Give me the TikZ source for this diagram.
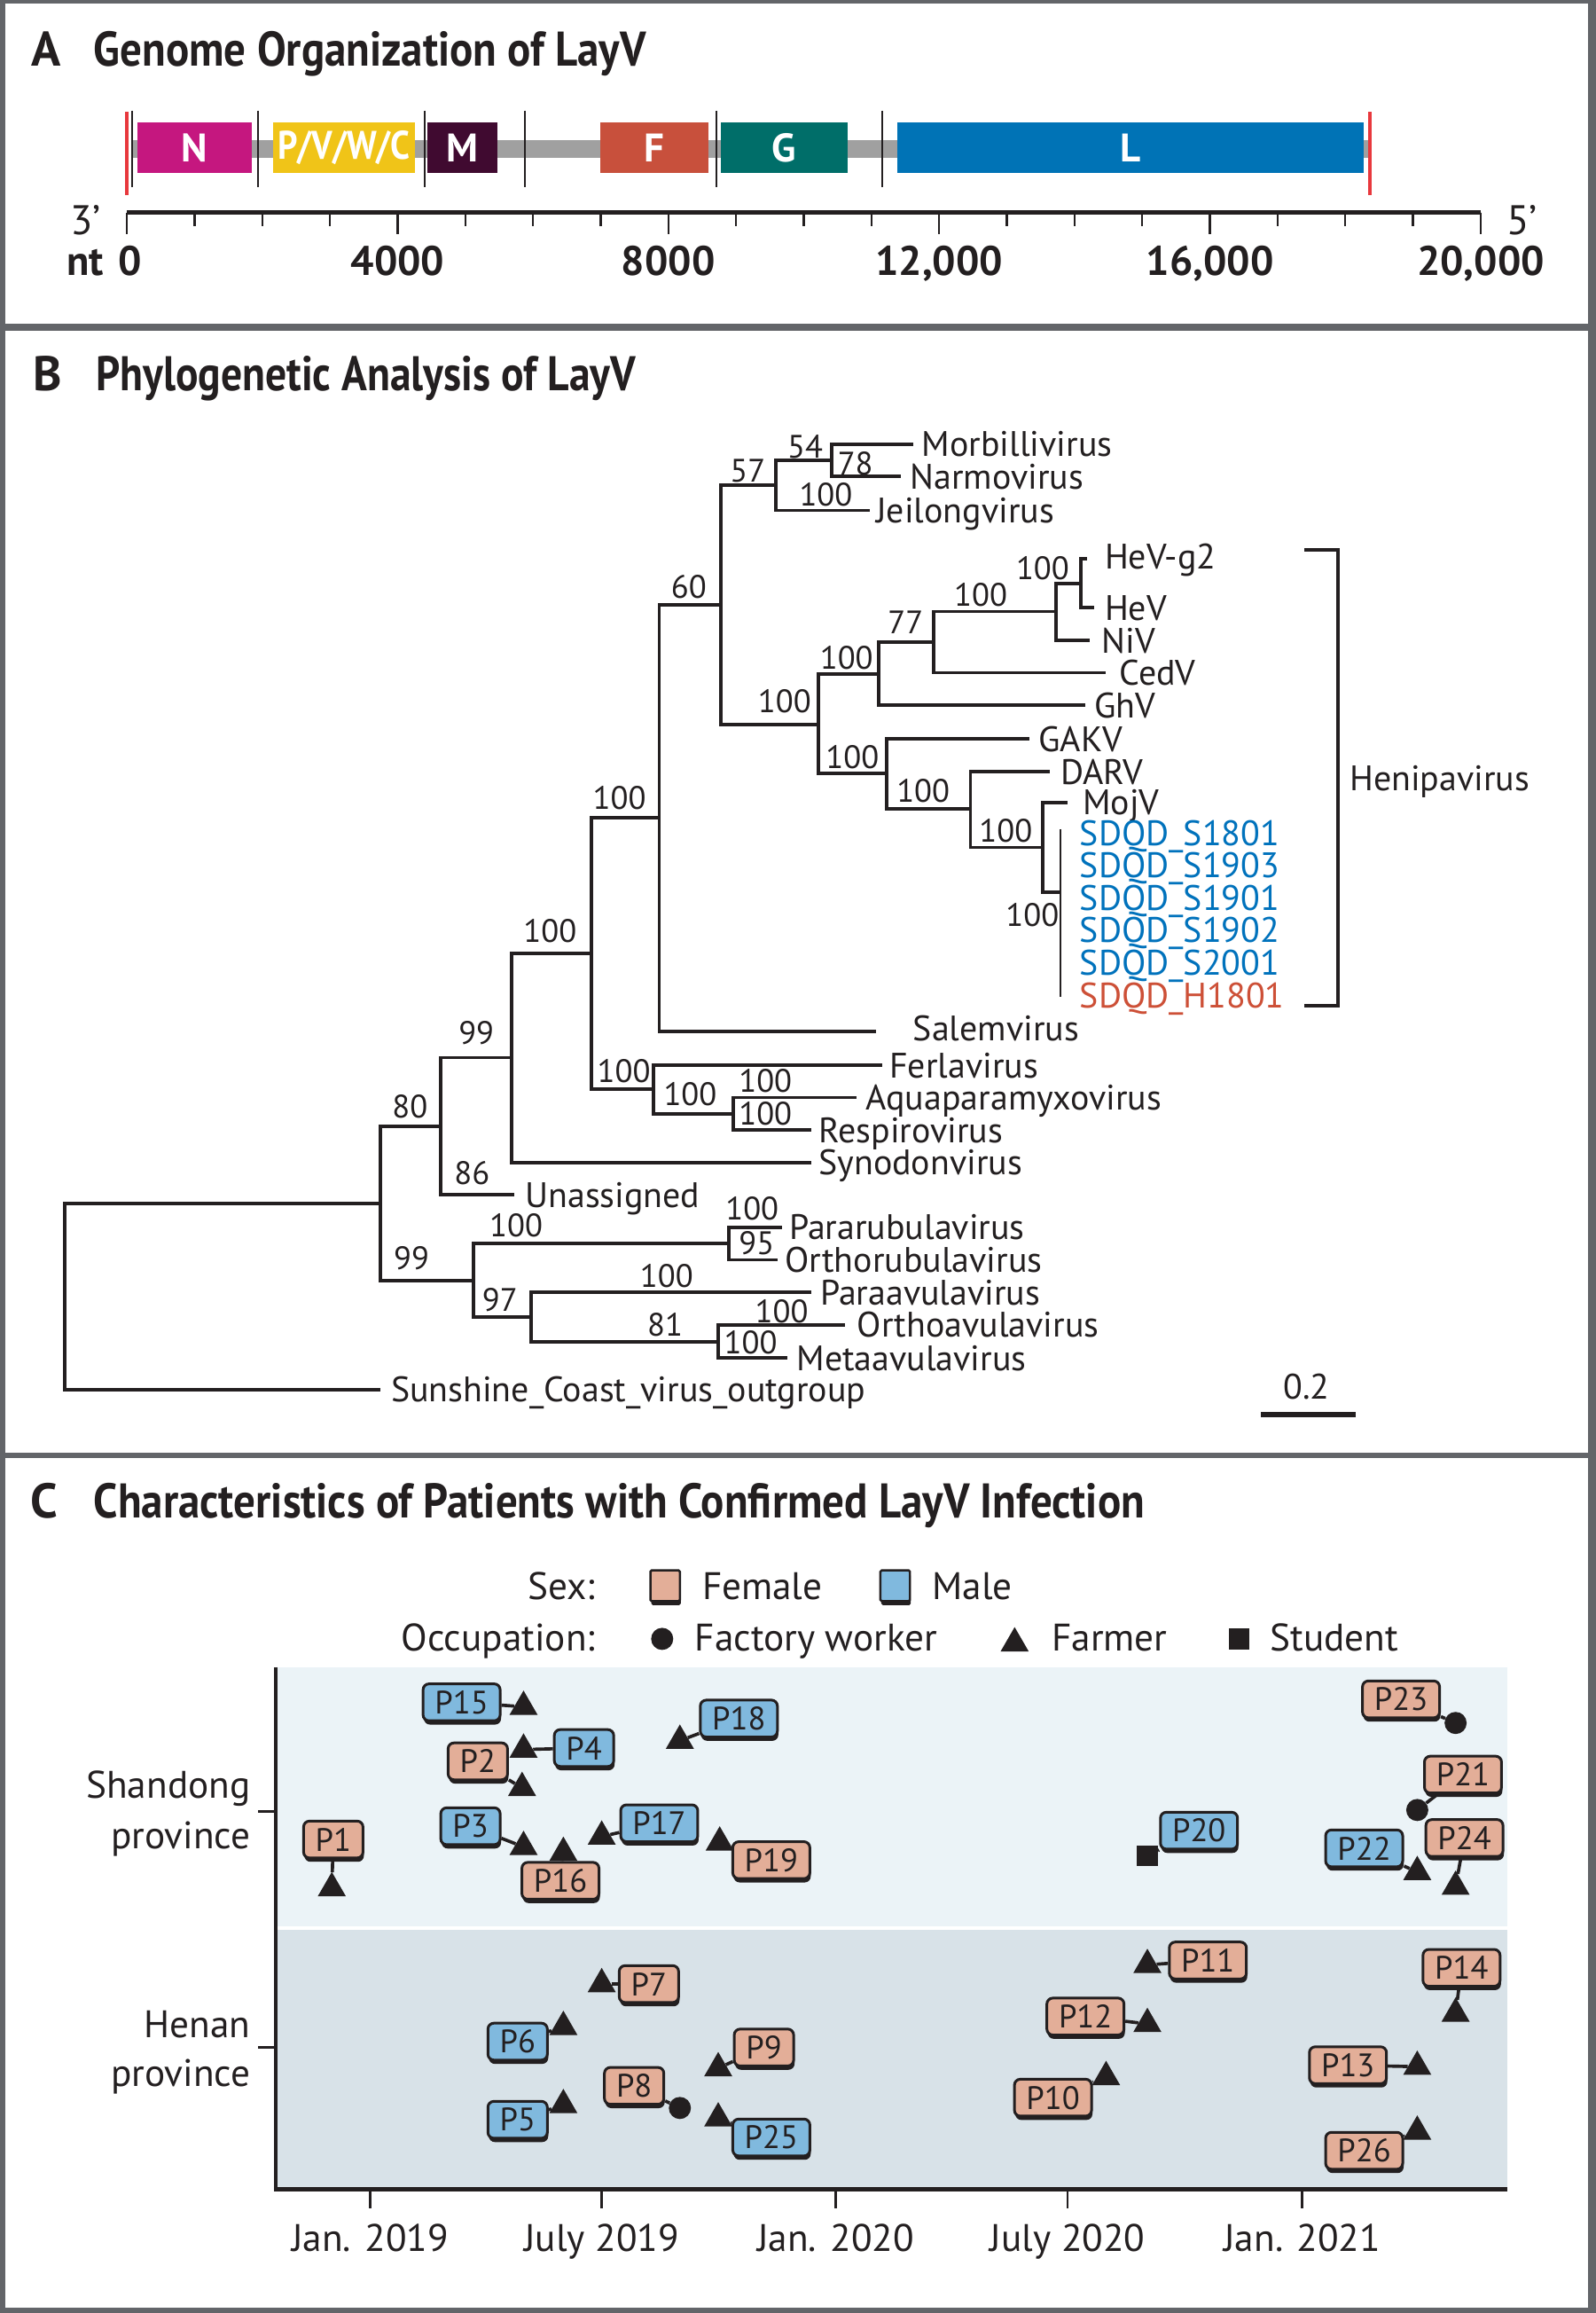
\documentclass[tikz,border=0pt]{standalone}
\usepackage{fontspec}
\setmainfont{PT Sans}
\usepackage{graphicx}
\usetikzlibrary{shapes.geometric,shadows}
\newcommand\myfs[1]{\fontsize{#1pt}{#1pt}\selectfont}
\newlength\mytmpw
\newcommand\fitw[2]{\settowidth\mytmpw{#2}\pgfmathsetmacro\myfac{#1/\mytmpw}\scalebox{\myfac}[1]{#2}}
\definecolor{frame}{HTML}{636569}
\definecolor{cN}{HTML}{C5177F}
\definecolor{cP}{HTML}{F0C418}
\definecolor{cM}{HTML}{400A30}
\definecolor{cF}{HTML}{C8503C}
\definecolor{cG}{HTML}{006E69}
\definecolor{cL}{HTML}{0073B6}
\definecolor{cbar}{HTML}{A0A0A0}
\definecolor{cred}{HTML}{E8383D}
\definecolor{sdqd}{HTML}{0072BC}
\definecolor{hsdqd}{HTML}{CD5037}
\definecolor{fem}{HTML}{E3AE98}
\definecolor{mal}{HTML}{80B9DE}
\definecolor{shd}{HTML}{EBF3F7}
\definecolor{hen}{HTML}{D8E2E8}
\definecolor{ink}{HTML}{231F20}
\tikzset{
  ttl/.style={font=\bfseries\myfs{33}, inner sep=0, anchor=base west, text=ink},
  axl/.style={font=\bfseries\myfs{28}, inner sep=0, anchor=base, text=ink},
  gene/.style={minimum height=34pt, inner sep=0, font=\bfseries\myfs{27}, text=white},
  tree/.style={line width=2.3pt, draw=ink},
  leaf/.style={font=\myfs{24}, inner sep=0, anchor=base west, yshift=-8.5pt, text=ink},
  bs/.style={font=\myfs{22}, inner sep=0, text=ink},
  tx/.style={font=\myfs{26}, inner sep=0, yshift=-9pt, text=ink},
  pbox/.style={draw=ink, line width=1.8pt, rounded corners=4pt, minimum height=25pt,
    inner xsep=8pt, inner ysep=0pt, font=\myfs{22}, text=ink,
    drop shadow={shadow xshift=0.6pt, shadow yshift=-2.6pt, fill=ink, opacity=1}},
  fbox/.style={pbox, fill=fem},
  mbox/.style={pbox, fill=mal},
  tri/.style={regular polygon, regular polygon sides=3, fill=ink, inner sep=0pt, minimum size=22pt},
  dot/.style={circle, fill=ink, inner sep=0pt, minimum size=15pt},
  sqm/.style={rectangle, fill=ink, inner sep=0pt, minimum size=14pt},
  conn/.style={line width=2.2pt, draw=ink},
}
\begin{document}
\begin{tikzpicture}[x=1pt,y=-1pt]
\useasboundingbox (0,0) rectangle (1082,1568);
\fill[frame] (0,0) rectangle (1082,1568);
\fill[white] (3.5,2.5) rectangle (1077,219.5);
\fill[white] (3.5,224) rectangle (1077,984.5);
\fill[white] (3.5,988.5) rectangle (1077,1564.5);

% ---------------- Panel A ----------------
\node[ttl] (tA) at (21,45) {A};
\node[ttl] (tAt) at (63.5,45) {\fitw{374.5pt}{Genome Organization of LayV}};
\fill[cbar] (89.7,95) rectangle (928,107);
\node[gene, fill=cN, minimum width=77.3pt] (gN) at (131.85,100) {N};
\node[gene, fill=cP, minimum width=96.6pt] (gP) at (233.3,100) {\fitw{90pt}{P/V/W/C}};
\node[gene, fill=cM, minimum width=47.7pt] (gM) at (313.65,100) {M};
\node[gene, fill=cF, minimum width=73.3pt] (gF) at (443.65,100) {F};
\node[gene, fill=cG, minimum width=86.4pt] (gG) at (531.8,100) {G};
\node[gene, fill=cL, minimum width=316.1pt] (gL) at (766.75,100) {L};
\foreach \x in {89.6,175,288,356,486,598} \draw[ink, line width=1.2pt] (\x,75) -- (\x,127);
\draw[cred, line width=2.5pt] (86,76) -- (86,132);
\draw[cred, line width=2.5pt] (929,76) -- (929,132);
% scale
\draw[ink, line width=3pt] (86,144) -- (1004,144);
\foreach \i in {0,...,20} {
  \pgfmathsetmacro\xx{86+\i*45.9}
  \draw[ink, line width=1.4pt] (\xx,144) -- (\xx,153.5);
}
\foreach \i in {0,4,8,12,16,20} {
  \pgfmathsetmacro\xx{86+\i*45.9}
  \draw[ink, line width=1.4pt] (\xx,144) -- (\xx,158.5);
}
\node[font=\myfs{28}, inner sep=0, anchor=base, text=ink] (t3) at (58,159.3) {3’};
\node[font=\myfs{28}, inner sep=0, anchor=base, text=ink] (t5) at (1032,159.3) {5’};
\node[axl, anchor=base west] (lnt) at (45,186.4) {nt};
\node[axl] (l0) at (88,186.4) {0};
\node[axl] (l4) at (269.6,186.4) {4000};
\node[axl] (l8) at (453.2,186.4) {8000};
\node[axl] (l12) at (636.8,186.4) {12,000};
\node[axl] (l16) at (820.4,186.4) {16,000};
\node[axl] (l20) at (1004,186.4) {20,000};

% ---------------- Panel B ----------------
\node[ttl] (tB) at (22.4,265) {B};
\node[ttl] (tBt) at (65,265) {\fitw{366pt}{Phylogenetic Analysis of LayV}};

% internal nodes
\coordinate (R) at (44,879.5);
\coordinate (n80) at (258,816);
\coordinate (n99a) at (299,763.5);
\coordinate (n99b) at (321,868);
\coordinate (n100a) at (347,717);
\coordinate (n100b) at (401,646.5);
\coordinate (n100c) at (447,554.5);
\coordinate (n100d) at (443,738.5);
\coordinate (n100e) at (497,755);
\coordinate (n60) at (489,410);
\coordinate (n57) at (526,329);
\coordinate (n54) at (564,312);
\coordinate (nH) at (555,491);
\coordinate (nA) at (596,457);
\coordinate (n77) at (633,435.5);
\coordinate (nB) at (716,414.5);
\coordinate (nC) at (733,395.5);
\coordinate (nD) at (601,524.5);
\coordinate (nE) at (658,548.5);
\coordinate (nF) at (707,574.5);
\coordinate (nG) at (719,605);
\coordinate (nGt) at (719,562);
\coordinate (nGb) at (719,676);
\coordinate (n100p) at (494,843);
\coordinate (n97) at (360,893);
\coordinate (n81) at (487,909.5);
% leaf ends
\coordinate (eOut) at (258,942);
\coordinate (eUna) at (349,810);
\coordinate (eSyn) at (550,788);
\coordinate (eSal) at (594,699);
\coordinate (eFer) at (598,722);
\coordinate (eAqu) at (581,744);
\coordinate (eRes) at (550,766);
\coordinate (eMor) at (619,301);
\coordinate (eNar) at (611,323);
\coordinate (eJei) at (590,346);
\coordinate (eHg2) at (737,379);
\coordinate (eHeV) at (742,412);
\coordinate (eNiV) at (739,434);
\coordinate (eCed) at (750,456);
\coordinate (eGhV) at (736,478);
\coordinate (eGAK) at (698,501);
\coordinate (eDAR) at (712,523);
\coordinate (eMoj) at (724,544);
\coordinate (ePru) at (530,832);
\coordinate (eOru) at (527,854);
\coordinate (ePav) at (550,876);
\coordinate (eOav) at (573,898);
\coordinate (eMav) at (534,920.5);

\foreach \p/\c in {R/n80,R/eOut,n80/n99a,n80/n99b,n99a/n100a,n99a/eUna,n100a/n100b,n100a/eSyn,
  n100b/n100c,n100b/n100d,n100d/eFer,n100d/n100e,n100e/eAqu,n100e/eRes,n100c/n60,n100c/eSal,
  n60/n57,n60/nH,n57/n54,n57/eJei,n54/eMor,n54/eNar,nH/nA,nH/nD,nA/n77,nA/eGhV,n77/nB,n77/eCed,
  nB/nC,nB/eNiV,nC/eHg2,nC/eHeV,nD/eGAK,nD/nE,nE/eDAR,nE/nF,nF/eMoj,nF/nG,
  n99b/n100p,n99b/n97,n100p/ePru,n100p/eOru,n97/ePav,n97/n81,n81/eOav,n81/eMav}
  \draw[tree] (\p) |- (\c);
\draw[ink, line width=1.2pt] (nGt) -- (nGb);

% leaf labels
\node[leaf] (lMor) at (625,301) {Morbillivirus};
\node[leaf] (lNar) at (617,323) {Narmovirus};
\node[leaf] (lJei) at (594,346) {Jeilongvirus};
\node[leaf] (lHg2) at (749,377) {HeV-g2};
\node[leaf] (lHeV) at (749,412) {HeV};
\node[leaf] (lNiV) at (747,434) {NiV};
\node[leaf] (lCed) at (759,456) {CedV};
\node[leaf] (lGhV) at (742,478) {GhV};
\node[leaf] (lGAK) at (704,501) {GAKV};
\node[leaf] (lDAR) at (719,523) {DARV};
\node[leaf] (lMoj) at (734,544) {MojV};
\node[leaf, text=sdqd] (s1) at (732,564.5) {SDQD\_S1801};
\node[leaf, text=sdqd] (s2) at (732,586.5) {SDQD\_S1903};
\node[leaf, text=sdqd] (s3) at (732,608.5) {SDQD\_S1901};
\node[leaf, text=sdqd] (s4) at (732,630.5) {SDQD\_S1902};
\node[leaf, text=sdqd] (s5) at (732,652.5) {SDQD\_S2001};
\node[leaf, text=hsdqd] (s6) at (732,675) {SDQD\_H1801};
\node[leaf] (lSal) at (619,697) {Salemvirus};
\node[leaf] (lFer) at (603,722) {Ferlavirus};
\node[leaf] (lAqu) at (587,744) {Aquaparamyxovirus};
\node[leaf] (lRes) at (555,766) {Respirovirus};
\node[leaf] (lSyn) at (555,788) {Synodonvirus};
\node[leaf] (lUna) at (356,810) {Unassigned};
\node[leaf] (lPru) at (535,832) {Pararubulavirus};
\node[leaf] (lOru) at (532,854) {Orthorubulavirus};
\node[leaf] (lPav) at (556,876) {Paraavulavirus};
\node[leaf] (lOav) at (581,898) {Orthoavulavirus};
\node[leaf] (lMav) at (540,920.5) {Metaavulavirus};
\node[leaf] (lOut) at (265,942) {Sunshine\_Coast\_virus\_outgroup};

% Henipavirus bracket
\coordinate (hbT) at (884.6,372.7);
\coordinate (hbB) at (884.6,681.6);
\draw[tree] (hbT) -| (907,527) |- (hbB);
\node[leaf] (lHen) at (915,527.5) {Henipavirus};

% bootstrap values
\foreach \x/\y/\t [count=\k] in {278/750/80, 279/853/99, 323/700/99, 320/795/86, 373/631/100,
  420/541/100, 423/726/100, 468/742/100, 519/733/100, 519/755/100, 467/398/60, 507/319/57,
  532/475.5/100, 546/303/54, 560/335/100, 580/314/78, 574/446/100, 578/513/100, 614/422/77,
  665/403/100, 707/385/100, 626/536/100, 682/563/100, 700/620/100, 350/831/100, 339/881/97,
  510/819/100, 513/843/95, 452/865/100, 451/898/81, 530/889/100, 509/910/100}
  \node[bs] (bs\k) at (\x,\y) {\t};

% scale bar
\node[bs, font=\myfs{24}] (sc) at (886,940) {0.2};
\coordinate (sbL) at (855,959);
\coordinate (sbR) at (919,959);
\draw[ink, line width=3.6pt] (sbL) -- (sbR);

% ---------------- Panel C ----------------
\node[ttl] (tC) at (20.7,1029) {C};
\node[ttl] (tCt) at (63.5,1029) {\fitw{712.5pt}{Characteristics of Patients with Confirmed LayV Infection}};

% legend
\node[tx, anchor=base east] (lgS) at (403.7,1075) {Sex:};
\node[pbox, fill=fem, minimum width=20pt, minimum height=21pt, inner sep=0pt, rounded corners=1pt, line width=1.5pt] (lgF) at (451,1075) {};
\node[tx, anchor=base west] (lgFt) at (476,1075) {Female};
\node[pbox, fill=mal, minimum width=20pt, minimum height=21pt, inner sep=0pt, rounded corners=1pt, line width=1.5pt] (lgM) at (607,1075) {};
\node[tx, anchor=base west] (lgMt) at (632,1075) {Male};
\node[tx, anchor=base east] (lgO) at (403.7,1110) {Occupation:};
\node[dot] (lgD) at (449,1111) {};
\node[tx, anchor=base west] (lgDt) at (471,1110) {Factory worker};
\node[tri] (lgT) at (688,1114) {};
\node[tx, anchor=base west] (lgTt) at (713,1110) {Farmer};
\node[sqm] (lgQ) at (840,1111) {};
\node[tx, anchor=base west] (lgQt) at (861,1110) {Student};

% plot background and axes
\fill[shd] (187,1130) rectangle (1022,1306);
\fill[hen] (187,1308) rectangle (1022,1484);
\draw[ink, line width=2pt] (187,1130) -- (187,1484);
\draw[ink, line width=3pt] (186,1484) -- (1022,1484);
\foreach \x/\t in {251/Jan. 2019, 408/July 2019, 566.6/Jan. 2020, 724/July 2020, 883/Jan. 2021} {
  \draw[ink, line width=1.5pt] (\x,1484) -- (\x,1497);
  \node[tx, anchor=base, yshift=9pt] at (\x,1526) {\t};
}
\draw[ink, line width=2pt] (175,1228) -- (187,1228);
\draw[ink, line width=2pt] (175,1388) -- (187,1388);
\node[tx, anchor=base east] (ySa) at (170,1210) {Shandong};
\node[tx, anchor=base east] (ySb) at (170,1244) {province};
\node[tx, anchor=base east] (yHa) at (170,1372.5) {Henan};
\node[tx, anchor=base east] (yHb) at (170,1405.6) {province};

% markers
\foreach \n/\x/\y in {15/355/1157, 18/461/1180, 4/355/1186, 2/354/1212, 3/355/1252, 16/382/1256,
  17/408/1245, 19/488/1249, 1/225/1280, 24/987/1279, 22/961/1269,
  7/408/1345, 6/382/1374, 9/487/1402, 5/382/1427, 25/487/1436, 11/778/1332, 12/778/1372,
  14/987/1365, 10/750/1408, 13/961/1401, 26/961/1445}
  \node[tri] (m\n) at (\x,\y) {};
\node[dot] (m23) at (987,1168) {};
\node[dot] (m21) at (961,1227) {};
\node[dot] (m8) at (461,1429) {};
\node[sqm] (m20) at (778,1258) {};

% patient boxes
\node[mbox] (P15) at (313,1154) {P15};
\node[mbox] (P18) at (501,1165) {P18};
\node[mbox] (P4) at (396,1185) {P4};
\node[fbox] (P2) at (324,1194) {P2};
\node[mbox] (P3) at (319,1238) {P3};
\node[fbox] (P16) at (380,1275) {P16};
\node[mbox] (P17) at (447,1236) {P17};
\node[fbox] (P19) at (523,1261) {P19};
\node[fbox] (P1) at (226,1247) {P1};
\node[mbox] (P20) at (813,1241) {P20};
\node[fbox] (P23) at (950,1152) {P23};
\node[fbox] (P21) at (992,1203) {P21};
\node[fbox] (P24) at (993,1246) {P24};
\node[mbox] (P22) at (925,1253) {P22};
\node[fbox] (P7) at (440,1345) {P7};
\node[mbox] (P6) at (351,1384) {P6};
\node[fbox] (P9) at (518,1388) {P9};
\node[fbox] (P8) at (430,1414) {P8};
\node[mbox] (P5) at (351,1437) {P5};
\node[mbox] (P25) at (523,1449) {P25};
\node[fbox] (P11) at (819,1329) {P11};
\node[fbox] (P12) at (736,1367) {P12};
\node[fbox] (P14) at (991,1334) {P14};
\node[fbox] (P10) at (714,1422) {P10};
\node[fbox] (P13) at (914,1400) {P13};
\node[fbox] (P26) at (925,1458) {P26};

\foreach \n in {15,18,4,2,3,16,17,19,1,20,23,21,24,22,7,6,9,8,5,25,11,12,14,10,13,26}
  \draw[conn] (m\n) -- (P\n);
\end{tikzpicture}
\end{document}
